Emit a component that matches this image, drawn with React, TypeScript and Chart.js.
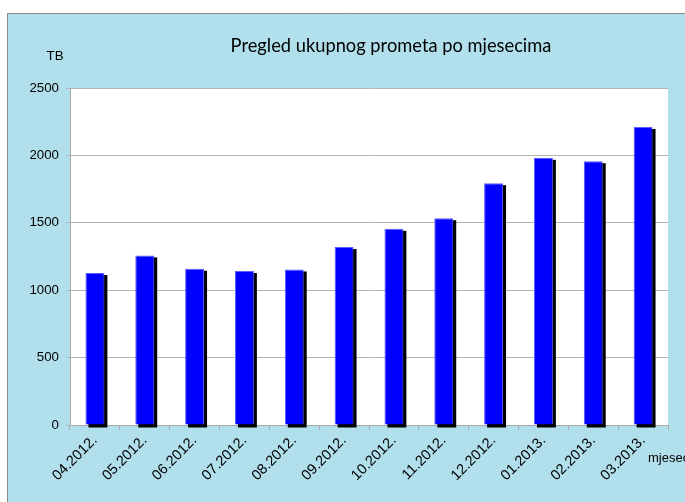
import React, { useEffect, useRef } from 'react';
import { Chart, registerables } from 'chart.js';

Chart.register(...registerables);

const categories = ['04.2012.', '05.2012.', '06.2012.', '07.2012.', '08.2012.', '09.2012.', '10.2012.', '11.2012.', '12.2012.', '01.2013.', '02.2013.', '03.2013.'];
const trafficTB = [1127, 1258, 1159, 1142, 1154, 1320, 1455, 1534, 1794, 1982, 1957, 2211];
const yMin = 0;
const yMax = 2500;
const yStep = 500;
const chartTitle = 'Pregled ukupnog prometa po mjesecima';
const yUnitLabel = 'TB';
const xUnitLabel = 'mjeseci';

const FONT = "'Liberation Sans', Arial, sans-serif";

const framePlugin = {
  id: 'frame',
  beforeDraw(chart: any) {
    const { ctx, width, height } = chart;
    ctx.save();
    ctx.fillStyle = '#ffffff';
    ctx.fillRect(0, 0, width, height);
    ctx.fillStyle = '#b1dfec';
    ctx.fillRect(7, 13, width - 7, height - 13);
    ctx.strokeStyle = '#8a8a8a';
    ctx.lineWidth = 1;
    ctx.beginPath();
    ctx.moveTo(7.5, height);
    ctx.lineTo(7.5, 13.5);
    ctx.lineTo(width, 13.5);
    ctx.stroke();
    const a = chart.chartArea;
    ctx.fillStyle = '#ffffff';
    ctx.fillRect(a.left, a.top, a.right - a.left, a.bottom - a.top);
    ctx.restore();
  },
  beforeDatasetsDraw(chart: any) {
    const { ctx } = chart;
    const meta = chart.getDatasetMeta(0);
    ctx.save();
    ctx.fillStyle = '#000000';
    meta.data.forEach((bar: any) => {
      const w = bar.width;
      ctx.fillRect(bar.x - w / 2 + 3, bar.y + 2, w, bar.base - bar.y + 1);
    });
    ctx.restore();
  },
  afterDraw(chart: any) {
    const { ctx } = chart;
    ctx.save();
    ctx.fillStyle = '#000000';
    ctx.textBaseline = 'alphabetic';
    ctx.textAlign = 'center';
    ctx.font = "18.3px Lato, 'Open Sans', sans-serif";
    ctx.fillText(chartTitle, 391, 52);
    ctx.font = `13.3px ${FONT}`;
    ctx.fillText(yUnitLabel, 55, 60);
    ctx.textAlign = 'left';
    ctx.font = `13px ${FONT}`;
    ctx.fillText(xUnitLabel, 648, 462);
    ctx.restore();
  },
};

export default function App() {
  const ref = useRef<HTMLCanvasElement | null>(null);

  useEffect(() => {
    if (!ref.current) return;
    Chart.defaults.font.family = FONT;
    Chart.defaults.font.size = 13.3;
    const chart = new Chart(ref.current, {
      type: 'bar',
      data: {
        labels: categories,
        datasets: [
          {
            data: trafficTB,
            backgroundColor: '#0000ff',
            borderColor: '#5a5aff',
            borderWidth: 1,
            barPercentage: 0.38,
            categoryPercentage: 1,
            clip: false as any,
          },
        ],
      },
      options: {
        responsive: false,
        animation: false,
        devicePixelRatio: 1,
        layout: { padding: { left: 0, top: 88, right: 17, bottom: 0 } },
        plugins: {
          legend: { display: false },
          title: { display: false },
          tooltip: { enabled: false },
        },
        scales: {
          x: {
            offset: true,
            afterFit: (s: any) => {
              s.height = 77;
              s.paddingLeft = 0;
              s.paddingRight = 0;
            },
            grid: {
              offset: true,
              drawOnChartArea: false,
              drawTicks: true,
              tickLength: 5,
              color: '#a8a8a8',
            },
            border: { display: true, color: '#a8a8a8', width: 1 },
            ticks: {
              maxRotation: 45,
              minRotation: 45,
              autoSkip: false,
              color: '#000000',
              padding: 2,
              font: { family: FONT, size: 14.5 },
            },
          },
          y: {
            min: yMin,
            max: yMax,
            afterFit: (s: any) => {
              s.width = 70;
            },
            ticks: {
              stepSize: yStep,
              color: '#000000',
              padding: 7,
              font: { family: FONT, size: 13.3 },
              callback: (v: any) => String(v),
            },
            grid: {
              color: '#b4b4b4',
              lineWidth: 1,
              tickLength: 4,
            },
            border: { display: true, color: '#a8a8a8', width: 1 },
          },
        },
      },
      plugins: [framePlugin],
    });
    return () => chart.destroy();
  }, []);

  return (
    <div style={{ position: 'fixed', left: 0, top: 0, width: 685, height: 502 }}>
      <canvas ref={ref} width={685} height={502} style={{ width: 685, height: 502, display: 'block' }} />
    </div>
  );
}
